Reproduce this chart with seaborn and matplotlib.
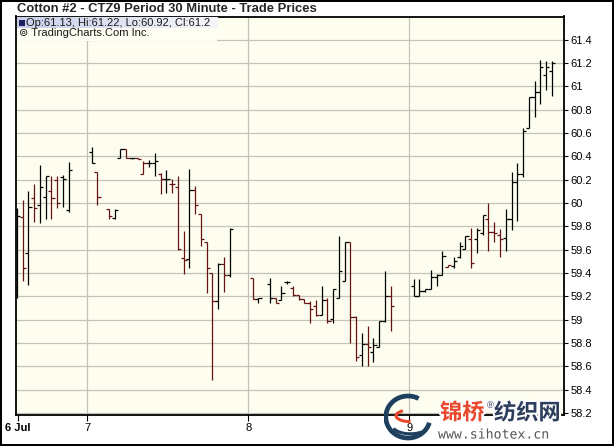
import numpy as np
import pandas as pd
import seaborn as sns
import matplotlib.pyplot as plt
import matplotlib.patheffects as pe
from matplotlib.patches import Rectangle, Arc

# 30 minute bars, x = trading slot (28 slots per day)
slot = [0, 1, 2, 3, 4, 5, 6, 7, 8, 9,
        13, 14, 16, 17, 18, 19, 20, 21, 22, 23, 24, 25, 26, 27, 28, 29, 30, 31, 32, 33, 34, 35, 36, 37,
        41, 42, 44, 45, 46, 47, 48, 49, 50, 51, 52, 53, 54, 55, 56, 57, 58, 59, 60, 61, 62, 63, 64, 65,
        69, 70, 71, 72, 73, 74, 75, 76, 77, 78, 79, 80, 81, 82, 83, 84, 85, 86, 87, 88, 89, 90, 91, 92, 93]

op = [59.21, 59.88, 59.57, 60.04, 59.98, 60.05, 60.10, 60.20, 60.22, 59.94,
      60.44, 60.27, 59.95, 59.87, 60.39, 60.46, 60.39, 60.39, 60.25, 60.34, 60.34, 60.25, 60.21, 60.16,
      60.14, 59.53, 59.52, 60.11, 59.91, 59.67, 59.40, 59.16, 59.48, 59.38,
      59.36, 59.18, 59.31, 59.19, 59.17, 59.32, 59.27, 59.21, 59.18, 59.14, 59.12, 59.04, 59.17, 59.01,
      59.19, 59.33, 59.67, 59.02, 58.70, 58.79, 58.72, 58.77, 58.99, 59.20,
      59.29, 59.20, 59.25, 59.26, 59.37, 59.38, 59.45, 59.46, 59.54, 59.61, 59.69, 59.69, 59.74, 59.86,
      59.75, 59.73, 59.70, 59.86, 60.18, 60.25, 60.64, 60.91, 60.95, 61.10, 61.13]

hi = [59.96, 60.03, 60.10, 60.16, 60.33, 60.23, 60.23, 60.23, 60.24, 60.35,
      60.48, 60.27, 59.95, 59.95, 60.46, 60.46, 60.39, 60.39, 60.36, 60.37, 60.43, 60.26, 60.28, 60.21,
      60.23, 59.76, 60.29, 60.15, 59.91, 59.67, 59.40, 59.49, 59.54, 59.79,
      59.36, 59.19, 59.36, 59.19, 59.29, 59.33, 59.29, 59.21, 59.18, 59.16, 59.17, 59.29, 59.19, 59.26,
      59.72, 59.67, 59.67, 59.03, 58.89, 58.95, 58.84, 58.99, 59.42, 59.29,
      59.35, 59.35, 59.26, 59.43, 59.39, 59.59, 59.47, 59.54, 59.67, 59.72, 59.79, 59.79, 59.90, 60.00,
      59.84, 59.78, 59.95, 60.27, 60.34, 60.64, 60.91, 61.05, 61.23, 61.22, 61.22]

lo = [59.19, 59.33, 59.30, 59.84, 59.83, 59.86, 59.86, 59.96, 59.97, 59.92,
      60.34, 59.98, 59.86, 59.86, 60.39, 60.39, 60.38, 60.38, 60.25, 60.31, 60.23, 60.08, 60.09, 60.09,
      59.60, 59.39, 59.44, 59.91, 59.63, 59.23, 58.48, 59.09, 59.24, 59.37,
      59.18, 59.14, 59.14, 59.14, 59.17, 59.31, 59.20, 59.17, 59.14, 58.97, 59.03, 59.04, 58.97, 58.97,
      59.19, 59.33, 58.80, 58.65, 58.60, 58.60, 58.64, 58.77, 58.98, 58.90,
      59.20, 59.20, 59.24, 59.26, 59.29, 59.38, 59.45, 59.44, 59.53, 59.61, 59.44, 59.57, 59.73, 59.59,
      59.67, 59.54, 59.59, 59.77, 59.85, 60.22, 60.64, 60.74, 60.85, 60.97, 60.92]

cl = [59.89, 59.44, 59.97, 59.96, 60.14, 60.23, 60.04, 60.00, 60.21, 60.28,
      60.34, 60.05, 59.89, 59.94, 60.46, 60.39, 60.39, 60.38, 60.34, 60.34, 60.36, 60.21, 60.21, 60.16,
      59.61, 59.51, 60.11, 59.98, 59.69, 59.44, 59.16, 59.48, 59.38, 59.78,
      59.18, 59.19, 59.19, 59.14, 59.23, 59.32, 59.21, 59.18, 59.14, 59.09, 59.04, 59.17, 58.99, 59.26,
      59.42, 59.67, 59.02, 58.68, 58.79, 58.77, 58.78, 58.99, 59.20, 59.12,
      59.20, 59.25, 59.26, 59.37, 59.38, 59.55, 59.47, 59.50, 59.63, 59.72, 59.49, 59.77, 59.90, 59.75,
      59.74, 59.69, 59.86, 60.18, 60.25, 60.62, 60.91, 60.95, 61.17, 61.17, 61.20]

day_pos = [0.2, 12.2, 40.2, 68.2]
day_labels = ["6 Jul", "7", "8", "9"]
price_ticks = np.round(np.arange(58.2, 61.41, 0.2), 1)

df = pd.DataFrame({"slot": slot, "open": op, "high": hi, "low": lo, "close": cl})
df["color"] = np.where(df["close"] < df["close"].shift(1), "#641212", "#000000")

sns.set_style("white", {"axes.facecolor": "#fefef0", "axes.edgecolor": "black"})
plt.rcParams["font.family"] = ["Liberation Sans", "Noto Sans CJK SC", "DejaVu Sans"]

fig = plt.figure(figsize=(6.14, 4.46), dpi=100, facecolor="white",
                 edgecolor="black", linewidth=1.5)
ax = fig.add_axes([16 / 614, 1 - 414.5 / 446, 548 / 614, 398 / 446])

# grid
for p in price_ticks:
    ax.axhline(p, color="#c2c2ba", lw=0.9, zorder=0)
for d in day_pos[1:]:
    ax.axvline(d, color="#c2c2ba", lw=0.9, zorder=0)

# OHLC bars
w = 0.55
ax.vlines(df["slot"], df["low"], df["high"], colors=df["color"], lw=0.9, zorder=3)
ax.hlines(df["open"], df["slot"] - w, df["slot"], colors=df["color"], lw=0.9, zorder=3)
ax.hlines(df["close"], df["slot"], df["slot"] + w, colors=df["color"], lw=0.9, zorder=3)

ax.set_xlim(-0.17, 95.13)
ax.set_ylim(58.187, 61.6)

ax.yaxis.tick_right()
ax.set_yticks(price_ticks)
ax.set_yticklabels([f"{p:g}" for p in price_ticks])
ax.set_xticks(day_pos)
ax.set_xticklabels(day_labels)
ax.get_xticklabels()[0].set_fontweight("bold")
ax.tick_params(axis="y", right=True, length=3, width=0.8, pad=1.5, labelsize=8, colors="black")
ax.tick_params(axis="x", bottom=True, length=4, width=0.8, pad=2, labelsize=8, colors="black")
for s in ax.spines.values():
    s.set_linewidth(1.3)
    s.set_color("black")

# legend box
ax.add_patch(Rectangle((0.002, 1 - 24 / 398), 200 / 548, 23.5 / 398,
                       transform=ax.transAxes, facecolor="#fefef2", edgecolor="none", zorder=4))
grad = np.linspace(0, 1, 256).reshape(1, -1)
ax.imshow(grad, cmap=sns.blend_palette(["#c9cfea", "#f6f6fa"], as_cmap=True), aspect="auto",
          extent=(0.002, 202 / 548, 1 - 11.5 / 398, 0.998), transform=ax.transAxes, zorder=5)
ax.set_xlim(-0.17, 95.13)
ax.set_ylim(58.187, 61.6)
ax.add_patch(Rectangle((3 / 548, 1 - 9.5 / 398), 5.5 / 548, 6 / 398, transform=ax.transAxes,
                       facecolor="#1c2060", edgecolor="none", zorder=6))
ax.text(10.5 / 548, 1 - 6 / 398, "Op:61.13, Hi:61.22, Lo:60.92, Cl:61.2", transform=ax.transAxes,
        fontsize=8, va="center", ha="left", color="#1a1a1a", zorder=6)
ax.text(3 / 548, 1 - 17 / 398, "\u229a TradingCharts.Com Inc.", transform=ax.transAxes,
        fontsize=8, va="center", ha="left", color="#1a1a1a", zorder=6,
        family=["Liberation Sans", "DejaVu Sans"])

fig.text(17 / 614, 1 - 12.5 / 446, "Cotton #2 - CTZ9 Period 30 Minute - Trade Prices",
         fontsize=9.4, fontweight="bold", ha="left", va="baseline")

# watermark
halo = [pe.withStroke(linewidth=3, foreground="white")]
fig.text(440 / 614, 1 - 413 / 446, "锦桥", color="#e8482c", fontsize=16, fontweight="bold",
         family=["Noto Sans CJK SC"], ha="left", va="center", path_effects=halo, zorder=10)
fig.text(487 / 614, 1 - 405 / 446, "®", color="#2c3e5c", fontsize=7, ha="left", va="center",
         path_effects=halo, zorder=10)
fig.text(494 / 614, 1 - 413 / 446, "纺织网", color="#2c3e5c", fontsize=16, fontweight="bold",
         family=["Noto Sans CJK SC"], ha="left", va="center", path_effects=halo, zorder=10)
fig.text(438 / 614, 1 - 435 / 446, "www.sihotex.cn", color="#555555", fontsize=9.5,
         family=["DejaVu Sans Mono"], ha="left", va="center", path_effects=halo, zorder=10)

logo = fig.add_axes([384 / 614, 1 - 441 / 446, 48 / 614, 48 / 446])
logo.set_xlim(-1, 1)
logo.set_ylim(-1, 1)
logo.axis("off")
logo.patch.set_alpha(0)
logo.add_patch(Arc((0, 0), 1.85, 1.75, theta1=60, theta2=345, color="#1f3f5f", lw=3.4))
logo.add_patch(Arc((0.1, -0.35), 1.5, 0.7, theta1=190, theta2=330, color="#1f3f5f", lw=2.2))
logo.add_patch(Arc((0.15, 0.05), 1.3, 0.5, theta1=150, theta2=260, color="#e8482c", lw=2.2))

fig.savefig("out.png", dpi=100)
